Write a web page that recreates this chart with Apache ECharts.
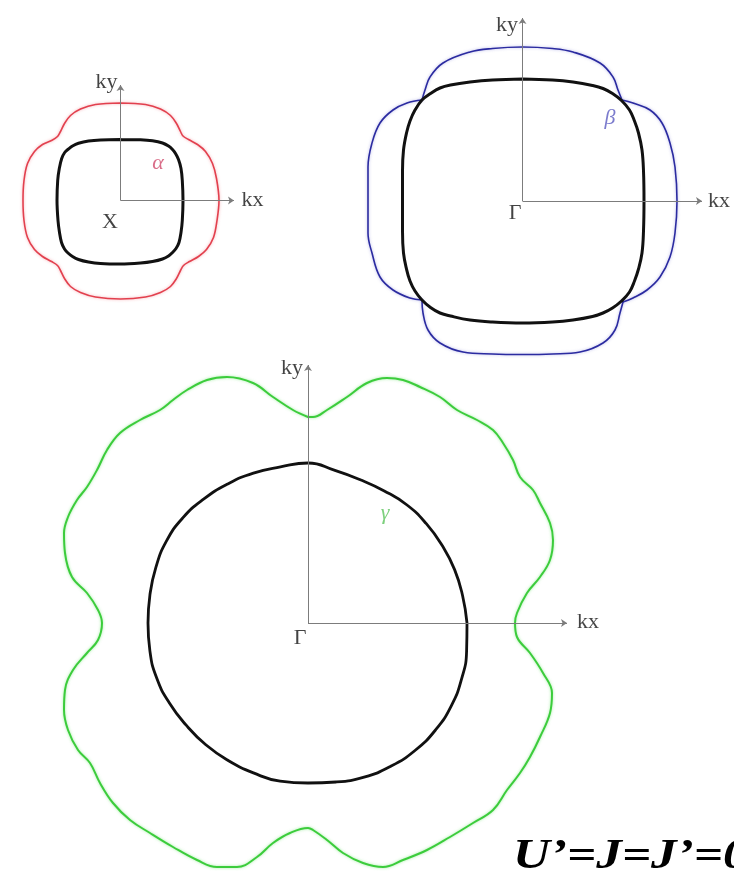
<!DOCTYPE html>
<html>
<head>
<meta charset="utf-8">
<script src="https://cdn.jsdelivr.net/npm/echarts@6/dist/echarts.min.js"></script>
<style>
  html, body { margin: 0; padding: 0; background: #ffffff; }
  #chart { width: 734px; height: 871px; }
</style>
</head>
<body>
<div id="chart"></div>
<script>
// Fermi surfaces in the (kx, ky) plane, three sheets.
// Each contour is a list of [kx, ky] points.

// alpha sheet around X
const alphaBlack = [
  [0,0.61],[0.2,0.607],[0.32,0.597],[0.42,0.575],[0.48,0.545],[0.52,0.51],[0.55,0.47],[0.58,0.41],[0.605,0.32],[0.618,0.2],[0.625,0],
  [0.618,-0.2],[0.605,-0.32],[0.585,-0.42],[0.555,-0.48],[0.52,-0.52],[0.48,-0.555],[0.42,-0.585],[0.32,-0.61],[0.2,-0.625],[0,-0.635],
  [-0.2,-0.63],[-0.32,-0.615],[-0.42,-0.59],[-0.48,-0.56],[-0.525,-0.525],[-0.56,-0.485],[-0.59,-0.42],[-0.61,-0.32],[-0.625,-0.2],[-0.635,0],
  [-0.628,0.2],[-0.612,0.32],[-0.588,0.42],[-0.558,0.48],[-0.52,0.515],[-0.48,0.545],[-0.42,0.572],[-0.32,0.595],[-0.2,0.606],[0,0.61]
];
const alphaColored = [
  [0,0.975],[0.25,0.96],[0.40,0.915],[0.50,0.85],[0.56,0.77],[0.6,0.69],[0.625,0.645],[0.68,0.61],[0.77,0.56],[0.85,0.49],[0.92,0.37],[0.96,0.22],[0.985,0],
  [0.965,-0.2],[0.93,-0.37],[0.86,-0.49],[0.78,-0.56],[0.69,-0.61],[0.63,-0.65],[0.60,-0.7],[0.56,-0.78],[0.50,-0.86],[0.40,-0.92],[0.25,-0.965],[0,-0.985],
  [-0.25,-0.965],[-0.40,-0.92],[-0.50,-0.86],[-0.56,-0.78],[-0.60,-0.70],[-0.63,-0.65],[-0.69,-0.61],[-0.78,-0.56],[-0.86,-0.49],[-0.93,-0.37],[-0.965,-0.2],[-0.975,0],
  [-0.965,0.2],[-0.93,0.37],[-0.86,0.49],[-0.78,0.56],[-0.69,0.6],[-0.63,0.64],[-0.6,0.69],[-0.56,0.77],[-0.5,0.85],[-0.4,0.915],[-0.25,0.96],[0,0.975]
];

// beta sheet around Gamma
const betaBlack = [
  [0,1.22],[0.3,1.21],[0.505,1.19],[0.7,1.155],[0.805,1.125],[0.9,1.075],[0.99,1.005],[1.07,0.91],[1.12,0.8],[1.16,0.68],[1.195,0.51],[1.21,0.3],[1.215,0],
  [1.21,-0.3],[1.195,-0.52],[1.16,-0.68],[1.12,-0.8],[1.07,-0.91],[0.99,-1.0],[0.9,-1.07],[0.805,-1.12],[0.7,-1.155],[0.505,-1.19],[0.3,-1.21],[0,-1.22],
  [-0.3,-1.21],[-0.525,-1.19],[-0.72,-1.15],[-0.825,-1.12],[-0.92,-1.065],[-1.005,-0.99],[-1.075,-0.9],[-1.125,-0.8],[-1.16,-0.68],[-1.19,-0.52],[-1.2,-0.3],[-1.2,0],
  [-1.2,0.3],[-1.19,0.51],[-1.16,0.68],[-1.125,0.8],[-1.075,0.91],[-1.005,1.01],[-0.92,1.075],[-0.825,1.13],[-0.72,1.16],[-0.525,1.19],[-0.3,1.21],[0,1.22]
];
const betaTop = [
  [-1.005,1.01],[-0.975,1.11],[-0.925,1.24],[-0.795,1.38],[-0.525,1.49],[-0.3,1.525],[0,1.54],[0.3,1.525],[0.505,1.49],[0.775,1.38],[0.905,1.24],[0.955,1.11],[0.995,1.01]
];
const betaRight = [
  [0.995,1.01],[1.105,0.98],[1.275,0.91],[1.395,0.78],[1.475,0.58],[1.525,0.34],[1.545,0],[1.525,-0.32],[1.475,-0.56],[1.375,-0.76],[1.245,-0.89],[1.105,-0.97],[1.005,-1.01]
];
const betaBottom = [
  [1.005,-1.01],[0.975,-1.12],[0.925,-1.29],[0.805,-1.42],[0.575,-1.51],[0.3,-1.53],[0,-1.535],[-0.3,-1.53],[-0.595,-1.51],[-0.825,-1.42],[-0.945,-1.29],[-0.995,-1.12],[-1.005,-0.99]
];
const betaLeft = [
  [-1.005,-0.99],[-1.125,-0.97],[-1.295,-0.89],[-1.425,-0.76],[-1.505,-0.52],[-1.545,-0.32],[-1.545,0],[-1.545,0.34],[-1.505,0.58],[-1.425,0.78],[-1.295,0.91],[-1.155,0.98],[-1.005,1.01]
];

// gamma sheet around Gamma
const gammaBlack = [
  [1.59,0],[1.546,0.273],[1.466,0.534],[1.342,0.775],[1.183,0.993],[0.990,1.180],[0.763,1.321],[0.522,1.433],[0.269,1.526],[0,1.60],
  [-0.275,1.561],[-0.546,1.499],[-0.803,1.390],[-1.041,1.241],[-1.252,1.051],[-1.416,0.818],[-1.522,0.554],[-1.581,0.279],[-1.60,0],
  [-1.581,-0.279],[-1.513,-0.551],[-1.386,-0.80],[-1.218,-1.022],[-1.022,-1.218],[-0.795,-1.377],[-0.546,-1.499],[-0.279,-1.581],[0,-1.60],
  [0.280,-1.590],[0.561,-1.541],[0.828,-1.433],[1.070,-1.275],[1.275,-1.070],[1.433,-0.828],[1.536,-0.559],[1.586,-0.280],[1.59,0]
];
const gammaColored = [
  [0,2.06],[-0.15,2.13],[-0.35,2.26],[-0.55,2.40],[-0.81,2.46],[-1.01,2.43],[-1.21,2.33],[-1.35,2.23],[-1.48,2.13],[-1.68,2.03],[-1.88,1.90],[-2.01,1.73],[-2.11,1.53],[-2.21,1.36],[-2.31,1.23],[-2.40,1.06],[-2.44,0.90],[-2.43,0.70],[-2.36,0.46],[-2.21,0.30],[-2.10,0.13],[-2.06,0],
  [-2.10,-0.17],[-2.21,-0.30],[-2.35,-0.47],[-2.43,-0.67],[-2.44,-0.87],[-2.40,-1.07],[-2.30,-1.27],[-2.18,-1.40],[-2.08,-1.60],[-1.95,-1.80],[-1.78,-1.97],[-1.58,-2.10],[-1.35,-2.24],[-1.11,-2.37],[-0.91,-2.44],[-0.71,-2.44],[-0.51,-2.34],[-0.35,-2.20],[-0.18,-2.10],[0,-2.05],
  [0.05,-2.07],[0.19,-2.17],[0.35,-2.30],[0.55,-2.40],[0.75,-2.44],[0.95,-2.37],[1.19,-2.27],[1.42,-2.14],[1.65,-2.00],[1.85,-1.87],[1.99,-1.67],[2.12,-1.50],[2.22,-1.34],[2.32,-1.14],[2.42,-0.90],[2.44,-0.70],[2.35,-0.50],[2.22,-0.30],[2.09,-0.14],[2.07,0],
  [2.09,0.10],[2.19,0.30],[2.32,0.46],[2.42,0.63],[2.45,0.83],[2.42,1.00],[2.32,1.20],[2.25,1.33],[2.12,1.46],[2.05,1.63],[1.95,1.80],[1.85,1.93],[1.69,2.03],[1.49,2.13],[1.32,2.26],[1.12,2.36],[0.95,2.43],[0.79,2.45],[0.59,2.40],[0.39,2.26],[0.19,2.13],[0.05,2.06],[0,2.06]
];

const SERIF = '"Liberation Serif", "DejaVu Serif", serif';
const AXIS_GREY = '#7c7c7c';
const PX_PER_UNIT = 100;

// panel layout: origin in pixels, k-range on each side, axis arrow length
const panels = [
  { ox: 120.5, oy: 200.5, left: 1.2, right: 1.2, up: 1.2, down: 1.2, arrowX: 1.135, arrowY: 1.155 },
  { ox: 522.5, oy: 201,   left: 1.9, right: 2.0, up: 2.0, down: 1.9, arrowX: 1.795, arrowY: 1.83 },
  { ox: 308,   oy: 623,   left: 2.9, right: 2.9, up: 2.9, down: 2.48, arrowX: 2.59, arrowY: 2.58 }
];

const grid = [], xAxis = [], yAxis = [], series = [];
panels.forEach((p, i) => {
  grid.push({
    left: p.ox - p.left * PX_PER_UNIT, top: p.oy - p.up * PX_PER_UNIT,
    width: (p.left + p.right) * PX_PER_UNIT, height: (p.up + p.down) * PX_PER_UNIT,
    outerBoundsMode: 'none', containLabel: false
  });
  xAxis.push({ type: 'value', gridIndex: i, min: -p.left, max: p.right, show: false });
  yAxis.push({ type: 'value', gridIndex: i, min: -p.down, max: p.up, show: false });
});

function contour(data, panel, color, width, smooth, glow, z) {
  return {
    type: 'line', xAxisIndex: panel, yAxisIndex: panel, data: data,
    smooth: smooth, showSymbol: false, symbol: 'none', silent: true, z: z || 3,
    lineStyle: {
      color: color, width: width, cap: 'round', join: 'round',
      shadowBlur: glow ? 3 : 0, shadowColor: glow || 'transparent'
    },
    clip: false, animation: false
  };
}

function axesSeries(panel) {
  const p = panels[panel];
  return {
    type: 'line', xAxisIndex: panel, yAxisIndex: panel, data: [], silent: true, z: 1,
    animation: false,
    markLine: {
      silent: true, animation: false,
      symbol: ['none', 'arrow'], symbolSize: 6,
      lineStyle: { color: AXIS_GREY, width: 1, type: 'solid' },
      label: { show: false },
      emphasis: { disabled: true },
      data: [
        [{ coord: [0, 0] }, { coord: [p.arrowX, 0] }],
        [{ coord: [0, 0] }, { coord: [0, p.arrowY] }]
      ]
    }
  };
}

function labels(panel, items) {
  return {
    type: 'scatter', xAxisIndex: panel, yAxisIndex: panel, symbolSize: 0, silent: true,
    clip: false, animation: false, z: 5,
    data: items.map(it => ({
      value: it.at,
      label: {
        show: true, position: 'inside', formatter: it.text,
        fontFamily: SERIF, fontSize: it.size, fontStyle: it.italic ? 'italic' : 'normal',
        color: it.color || '#141414'
      }
    }))
  };
}

// panel 1: X
series.push(axesSeries(0));
series.push(contour(alphaColored, 0, '#e2404e', 1.6, 0.35, 'rgba(240,120,130,0.6)'));
series.push(contour(alphaBlack, 0, '#111', 3, 0.35));
series.push(labels(0, [
  { at: [-0.14, 1.185], text: 'ky', size: 22 },
  { at: [1.32, 0.005], text: 'kx', size: 22 },
  { at: [-0.105, -0.215], text: 'X', size: 22 },
  { at: [0.375, 0.375], text: 'α', size: 22, color: '#d0486a', italic: true }
]));

// panel 2: Gamma, beta
series.push(axesSeries(1));
[betaTop, betaRight, betaBottom, betaLeft].forEach(lobe =>
  series.push(contour(lobe, 1, '#2b2ba0', 1.6, 0.4, 'rgba(110,110,210,0.5)')));
series.push(contour(betaBlack, 1, '#111', 3, 0.4, null, 4));
series.push(labels(1, [
  { at: [-0.155, 1.76], text: 'ky', size: 22 },
  { at: [1.965, 0], text: 'kx', size: 22 },
  { at: [-0.075, -0.12], text: 'Γ', size: 22 },
  { at: [0.875, 0.83], text: 'β', size: 22, color: '#5a5ac0', italic: true }
]));

// panel 3: Gamma, gamma
series.push(axesSeries(2));
series.push(contour(gammaColored, 2, '#3ccc3c', 2, 0.4, 'rgba(120,230,120,0.7)'));
series.push(contour(gammaBlack, 2, '#111', 2.8, 0.5));
series.push(labels(2, [
  { at: [-0.16, 2.55], text: 'ky', size: 22 },
  { at: [2.8, 0.01], text: 'kx', size: 22 },
  { at: [-0.08, -0.15], text: 'Γ', size: 22 },
  { at: [0.77, 1.10], text: 'γ', size: 22, color: '#5cc45c', italic: true }
]));

const chart = echarts.init(document.getElementById('chart'), null, { renderer: 'canvas' });
chart.setOption({
  backgroundColor: '#ffffff',
  animation: false,
  grid: grid,
  xAxis: xAxis,
  yAxis: yAxis,
  series: series,
  graphic: [{
    type: 'text', x: 513, y: 836, scaleX: 1.22, silent: true,
    style: {
      text: 'U’=J=J’=0',
      font: 'italic bold 42px "Liberation Serif", serif',
      fill: '#000'
    }
  }]
});
</script>
</body>
</html>
